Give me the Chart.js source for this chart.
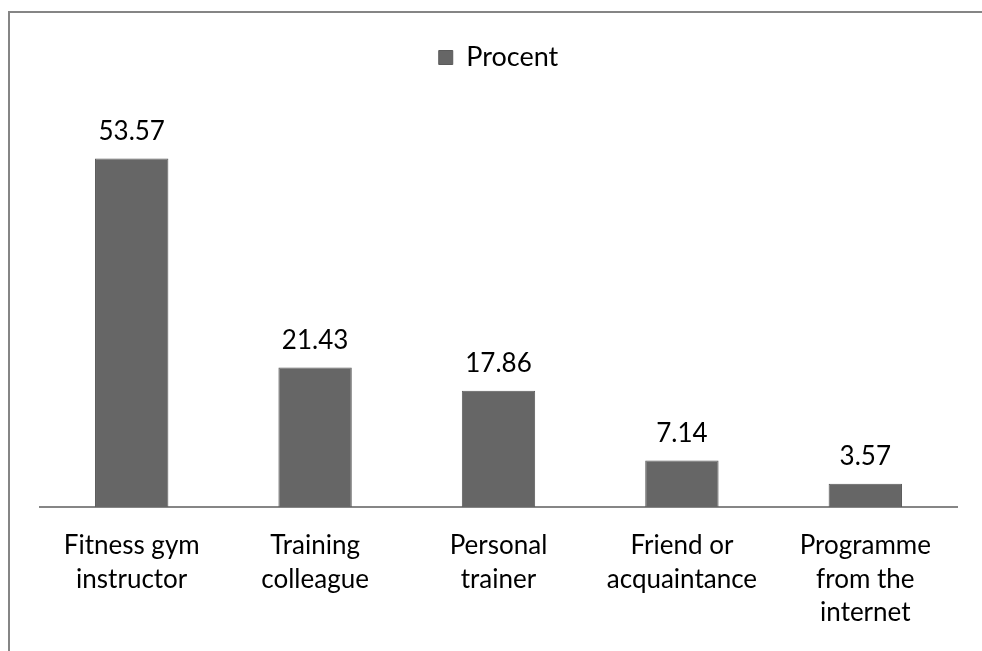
<!DOCTYPE html>
<html>
<head>
<meta charset="utf-8">
<script src="https://cdn.jsdelivr.net/npm/chart.js@4"></script>
<style>
  html, body { margin: 0; padding: 0; background: #fff; }
  #wrap { width: 982px; height: 651px; }
</style>
</head>
<body>
<div id="wrap"><canvas id="myChart" width="982" height="651"></canvas></div>
<script>
const categories = [
    ["Fitness gym", "instructor"],
    ["Training", "colleague"],
    ["Personal", "trainer"],
    ["Friend or", "acquaintance"],
    ["Programme", "from the", "internet"]
];
const procent = [53.57, 21.43, 17.86, 7.14, 3.57];
const seriesName = "Procent";

const fontFamily = "Lato, 'Open Sans', sans-serif";

// white background + frame (only top/left visible in the crop)
const framePlugin = {
    id: 'frame',
    beforeDraw: (chart) => {
        const {ctx} = chart;
        ctx.save();
        ctx.fillStyle = '#ffffff';
        ctx.fillRect(0, 0, chart.width, chart.height);
        ctx.strokeStyle = '#858585';
        ctx.lineWidth = 2;
        ctx.strokeRect(9, 12, chart.width + 50, chart.height + 50);
        ctx.restore();
    }
};

// value labels above bars
const valueLabels = {
    id: 'valueLabels',
    afterDatasetsDraw: (chart) => {
        const {ctx} = chart;
        ctx.save();
        ctx.fillStyle = '#000000';
        ctx.font = "26px " + fontFamily;
        ctx.textAlign = 'center';
        ctx.textBaseline = 'alphabetic';
        chart.getDatasetMeta(0).data.forEach((bar, i) => {
            ctx.fillText(procent[i].toFixed(2), bar.x, bar.y - 19);
        });
        ctx.restore();
    }
};

new Chart("myChart", {
    type: "bar",
    data: {
        labels: categories,
        datasets: [{
            label: seriesName,
            data: procent,
            backgroundColor: "#666666",
            borderColor: "#5a5a5a",
            borderWidth: 1,
            categoryPercentage: 1,
            barPercentage: 0.4
        }]
    },
    options: {
        responsive: false,
        animation: false,
        layout: { padding: { left: 40, right: 25, top: 34, bottom: 0 } },
        plugins: {
            legend: {
                display: true,
                position: 'top',
                labels: {
                    color: '#000000',
                    font: { family: fontFamily, size: 27 },
                    boxWidth: 14,
                    boxHeight: 14,
                    padding: 10
                }
            },
            tooltip: { enabled: false }
        },
        scales: {
            x: {
                grid: { display: false, drawTicks: false },
                border: { display: true, color: '#868686', width: 2 },
                ticks: {
                    color: '#000000',
                    font: { family: fontFamily, size: 26, lineHeight: 1.29 },
                    padding: 22,
                    maxRotation: 0,
                    autoSkip: false
                },
                afterFit: (scale) => { scale.height = 144; }
            },
            y: {
                display: false,
                min: 0,
                max: 65.5
            }
        }
    },
    plugins: [framePlugin, valueLabels]
});
</script>
</body>
</html>
